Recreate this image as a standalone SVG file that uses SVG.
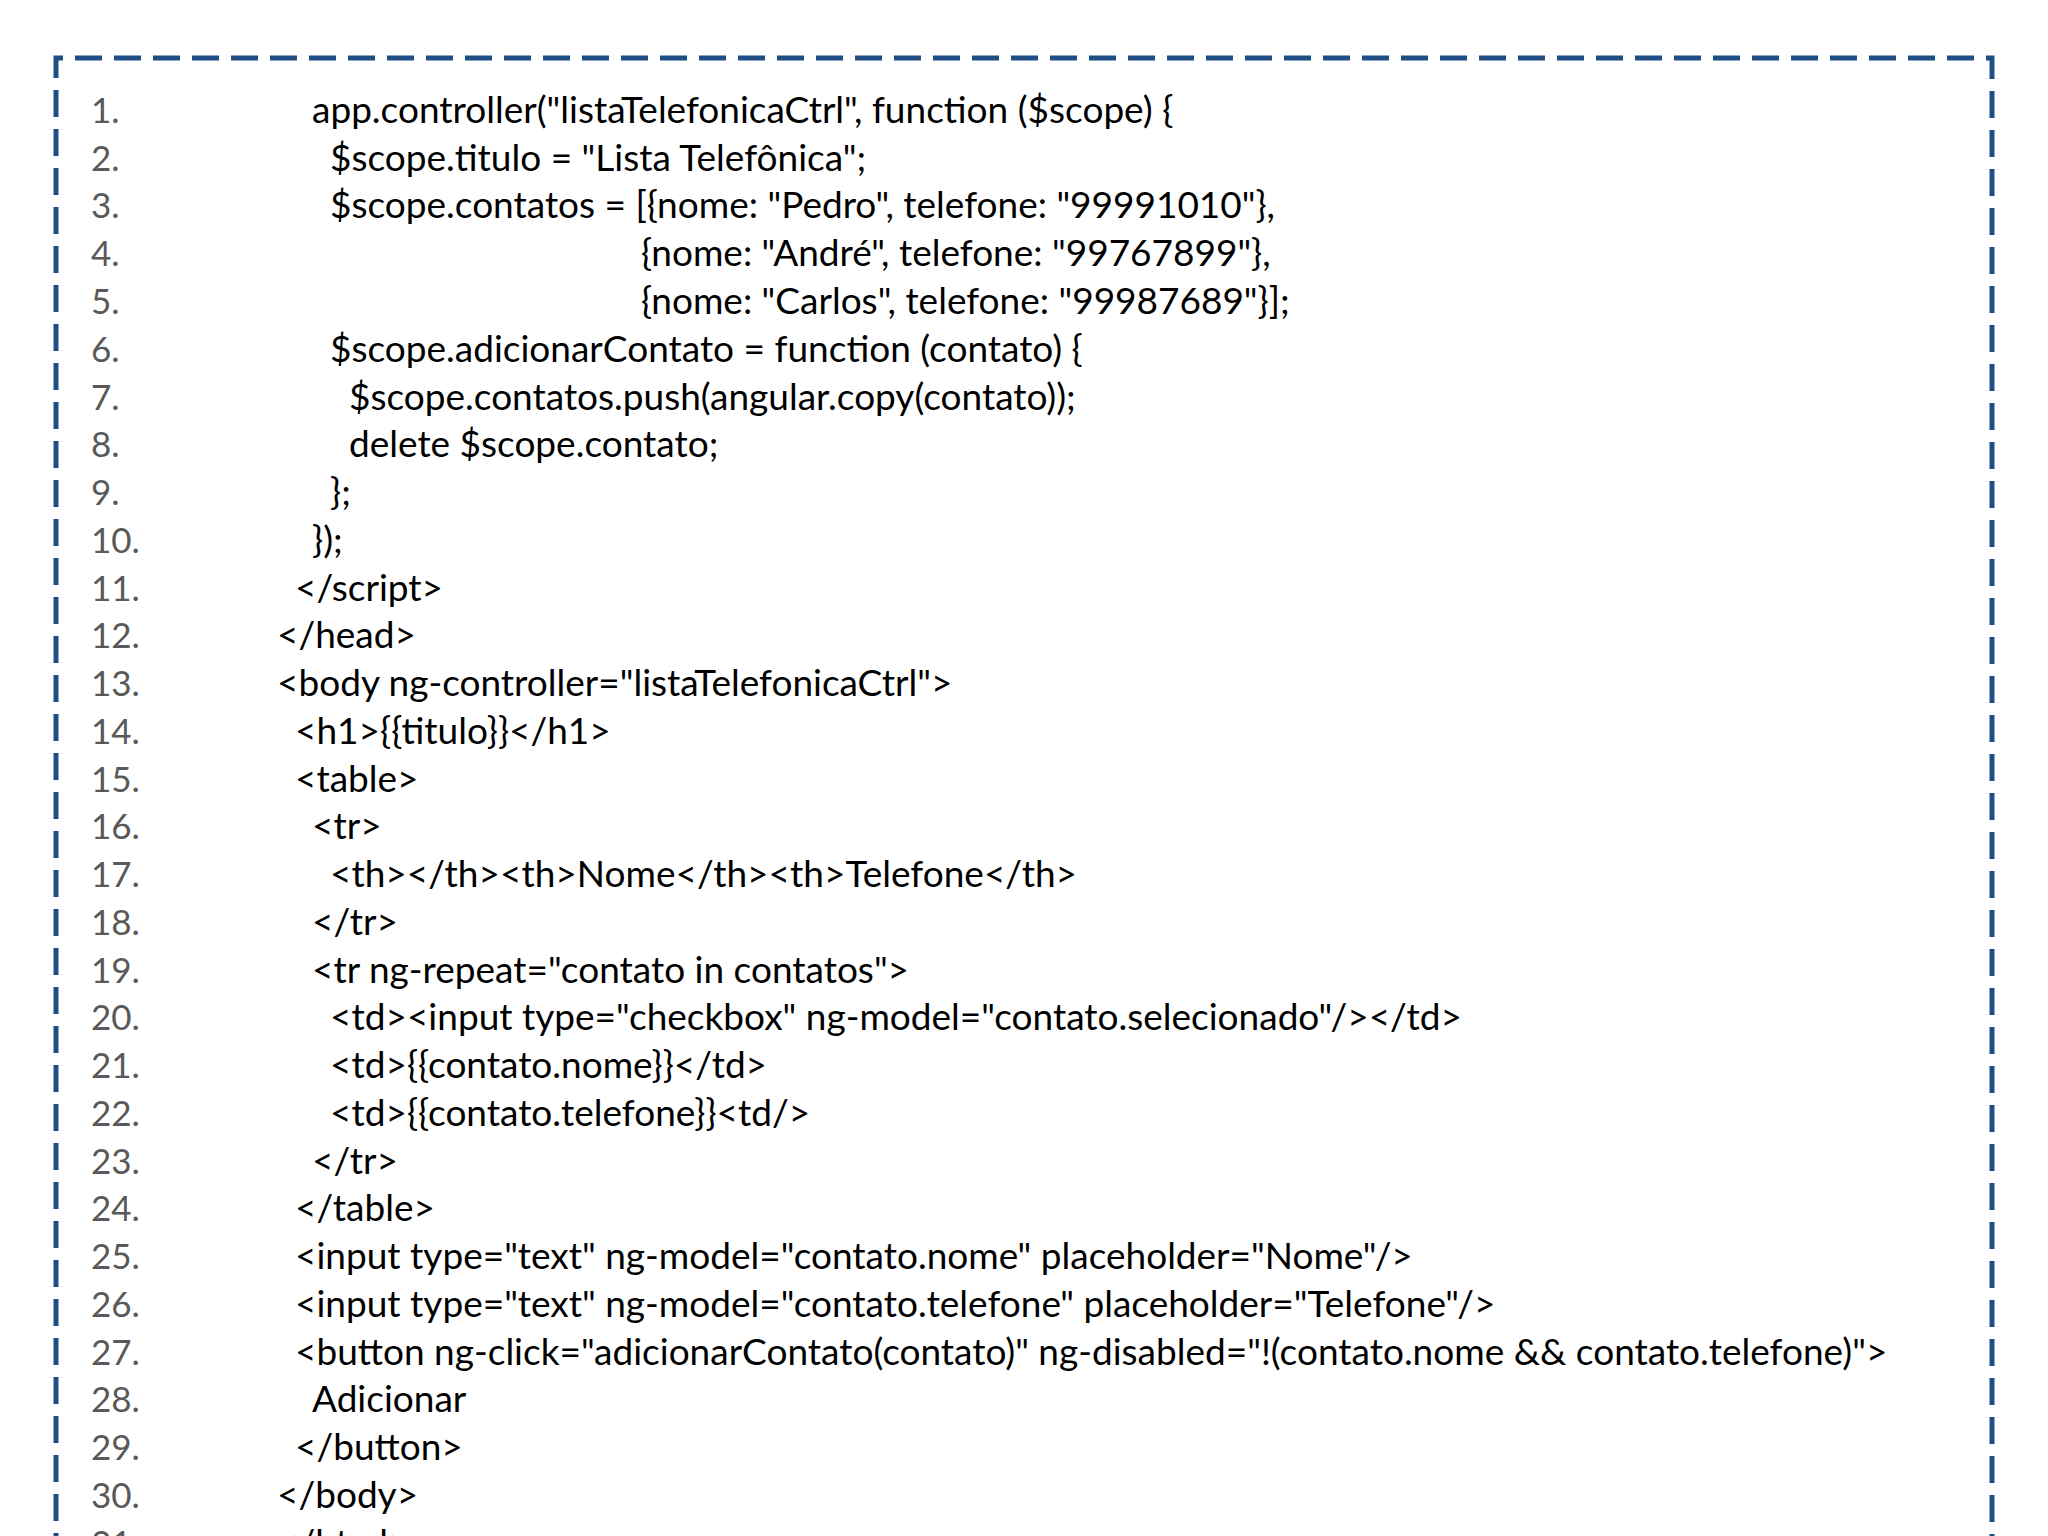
<svg xmlns="http://www.w3.org/2000/svg" width="2048" height="1536" viewBox="0 0 2048 1536">
<style>
.n{font-family:Lato,"Open Sans",sans-serif;font-size:35px;fill:#595959}
.c{font-family:Lato,"Open Sans",sans-serif;font-size:37px;fill:#000}
</style>
<rect width="2048" height="1536" fill="#fff"/>
<g id="frame"><path d="M56 1560 V58 H1992 V1560" fill="none" stroke="#1F4E86" stroke-width="5" stroke-dasharray="27 12"/></g>
<g id="code">
<text class="n" x="91" y="123">1.</text><text class="c" x="312" y="123">app.controller("listaTelefonicaCtrl", function ($scope) {</text>
<text class="n" x="91" y="171">2.</text><text class="c" x="330" y="171">$scope.titulo = "Lista Telefônica";</text>
<text class="n" x="91" y="218">3.</text><text class="c" x="330" y="218">$scope.contatos = [{nome: "Pedro", telefone: "99991010"},</text>
<text class="n" x="91" y="266">4.</text><text class="c" x="641" y="266">{nome: "André", telefone: "99767899"},</text>
<text class="n" x="91" y="314">5.</text><text class="c" x="641" y="314">{nome: "Carlos", telefone: "99987689"}];</text>
<text class="n" x="91" y="362">6.</text><text class="c" x="330" y="362">$scope.adicionarContato = function (contato) {</text>
<text class="n" x="91" y="410">7.</text><text class="c" x="349" y="410">$scope.contatos.push(angular.copy(contato));</text>
<text class="n" x="91" y="457">8.</text><text class="c" x="349" y="457">delete $scope.contato;</text>
<text class="n" x="91" y="505">9.</text><text class="c" x="330" y="505">};</text>
<text class="n" x="91" y="553">10.</text><text class="c" x="312" y="553">});</text>
<text class="n" x="91" y="601">11.</text><text class="c" x="295" y="601">&lt;/script&gt;</text>
<text class="n" x="91" y="648">12.</text><text class="c" x="277" y="648">&lt;/head&gt;</text>
<text class="n" x="91" y="696">13.</text><text class="c" x="277" y="696">&lt;body ng-controller="listaTelefonicaCtrl"&gt;</text>
<text class="n" x="91" y="744">14.</text><text class="c" x="295" y="744">&lt;h1&gt;{{titulo}}&lt;/h1&gt;</text>
<text class="n" x="91" y="792">15.</text><text class="c" x="295" y="792">&lt;table&gt;</text>
<text class="n" x="91" y="839">16.</text><text class="c" x="312" y="839">&lt;tr&gt;</text>
<text class="n" x="91" y="887">17.</text><text class="c" x="330" y="887">&lt;th&gt;&lt;/th&gt;&lt;th&gt;Nome&lt;/th&gt;&lt;th&gt;Telefone&lt;/th&gt;</text>
<text class="n" x="91" y="935">18.</text><text class="c" x="312" y="935">&lt;/tr&gt;</text>
<text class="n" x="91" y="983">19.</text><text class="c" x="312" y="983">&lt;tr ng-repeat="contato in contatos"&gt;</text>
<text class="n" x="91" y="1030">20.</text><text class="c" x="330" y="1030">&lt;td&gt;&lt;input type="checkbox" ng-model="contato.selecionado"/&gt;&lt;/td&gt;</text>
<text class="n" x="91" y="1078">21.</text><text class="c" x="330" y="1078">&lt;td&gt;{{contato.nome}}&lt;/td&gt;</text>
<text class="n" x="91" y="1126">22.</text><text class="c" x="330" y="1126">&lt;td&gt;{{contato.telefone}}&lt;td/&gt;</text>
<text class="n" x="91" y="1174">23.</text><text class="c" x="312" y="1174">&lt;/tr&gt;</text>
<text class="n" x="91" y="1221">24.</text><text class="c" x="295" y="1221">&lt;/table&gt;</text>
<text class="n" x="91" y="1269">25.</text><text class="c" x="295" y="1269">&lt;input type="text" ng-model="contato.nome" placeholder="Nome"/&gt;</text>
<text class="n" x="91" y="1317">26.</text><text class="c" x="295" y="1317">&lt;input type="text" ng-model="contato.telefone" placeholder="Telefone"/&gt;</text>
<text class="n" x="91" y="1365">27.</text><text class="c" x="295" y="1365">&lt;button ng-click="adicionarContato(contato)" ng-disabled="!(contato.nome &amp;&amp; contato.telefone)"&gt;</text>
<text class="n" x="91" y="1412">28.</text><text class="c" x="312" y="1412">Adicionar</text>
<text class="n" x="91" y="1460">29.</text><text class="c" x="295" y="1460">&lt;/button&gt;</text>
<text class="n" x="91" y="1508">30.</text><text class="c" x="277" y="1508">&lt;/body&gt;</text>
<text class="n" x="91" y="1556">31.</text><text class="c" x="277" y="1556">&lt;/html&gt;</text>
</g>
</svg>
